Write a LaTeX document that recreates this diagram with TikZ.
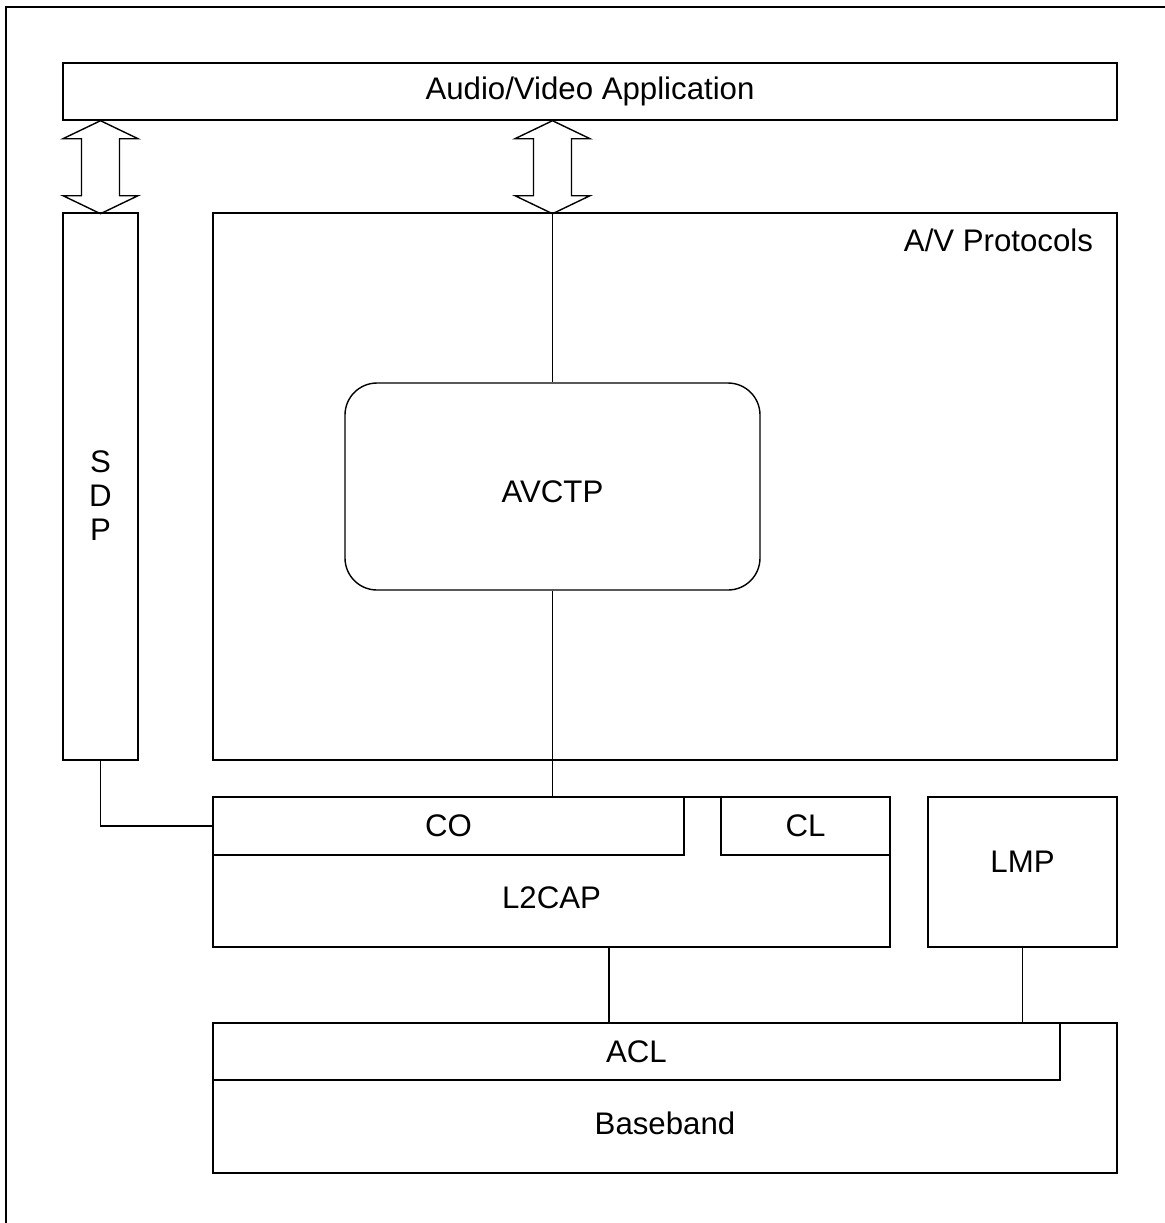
\documentclass[tikz,border=0pt]{standalone}
\usepackage{fontspec}
\setmainfont{Liberation Sans}
\usetikzlibrary{positioning}
\tikzstyle{layer} = [
    draw,
    rectangle,
    line width=0.7pt,
    inner sep=0pt,
    font=\fontsize{15.6}{17}\selectfont]
\tikzstyle{link} = [line width=0.7pt]
\tikzstyle{frame} = [line width=1pt]
\def\avarrow#1{\draw[link] (#1) -- ++(37.5,18) -- ++(-18.5,0) -- ++(0,57) -- ++(18.5,0)
    -- ++(-37.5,18) -- ++(-37.5,-18) -- ++(18.5,0) -- ++(0,-57) -- ++(-18.5,0) -- cycle;}

\begin{document}
\begin{tikzpicture}[x=0.5pt, y=-0.5pt]
        \useasboundingbox (0,0) rectangle (1165,1223);
        \draw[frame] (6,7) rectangle (1180,1240);

        \node[layer, minimum width=527pt, minimum height=28.5pt] (app) at (590,91.5) {Audio/Video Application};

        \node[layer, minimum width=37.5pt, minimum height=273.5pt] (sdp) at (100.5,486.5) {};
        \node[layer, draw=none, align=center] (sdplabel) at (100.5,496) {S\\D\\P};
        \node[layer, minimum width=452pt, minimum height=273.5pt] (avp) at (665,486.5) {};
        \node[layer, draw=none, anchor=north east] (avplabel) [below left = 8pt and 12pt of avp.north east] {A/V Protocols};
        \node[layer, rounded corners=16pt, minimum width=207.5pt, minimum height=103.5pt] (avctp) at (552.5,486.5) {};
        \node[layer, draw=none] (avctplabel) at (552.5,492) {AVCTP};

        \node[layer, minimum width=338.5pt, minimum height=75pt] (l2cap) at (551.5,872) {};
        \node[layer, minimum width=235.5pt, minimum height=29pt] (co) at (448.5,826) {CO};
        \node[layer, minimum width=84.5pt, minimum height=29pt] (cl) at (805.5,826) {CL};
        \node[layer, draw=none] (l2caplabel) at (551.5,898) {L2CAP};
        \node[layer, minimum width=94.5pt, minimum height=75pt] (lmp) at (1022.5,872) {};
        \node[layer, draw=none] (lmplabel) at (1022.5,861.5) {LMP};

        \node[layer, minimum width=452pt, minimum height=75pt] (baseband) at (665,1098) {};
        \node[layer, minimum width=423.5pt, minimum height=28.5pt] (acl) at (636.5,1051.5) {ACL};
        \node[layer, draw=none] (basebandlabel) at (665,1123) {Baseband};

        \avarrow{sdp.north |- app.south}
        \avarrow{avctp.north |- app.south}

        \draw[link] (avctp.north) -- (avctp.north |- avp.north);
        \draw[link] (avctp.south) -- (avctp.south |- co.north);
        \draw[link] (sdp.south) |- (co.west);
        \draw[link] ([xshift=28.75pt]l2cap.south) coordinate (l2down) -- (l2down |- acl.north);
        \draw[link] (lmp.south) -- (lmp.south |- acl.north);
    \end{tikzpicture}
\end{document}
